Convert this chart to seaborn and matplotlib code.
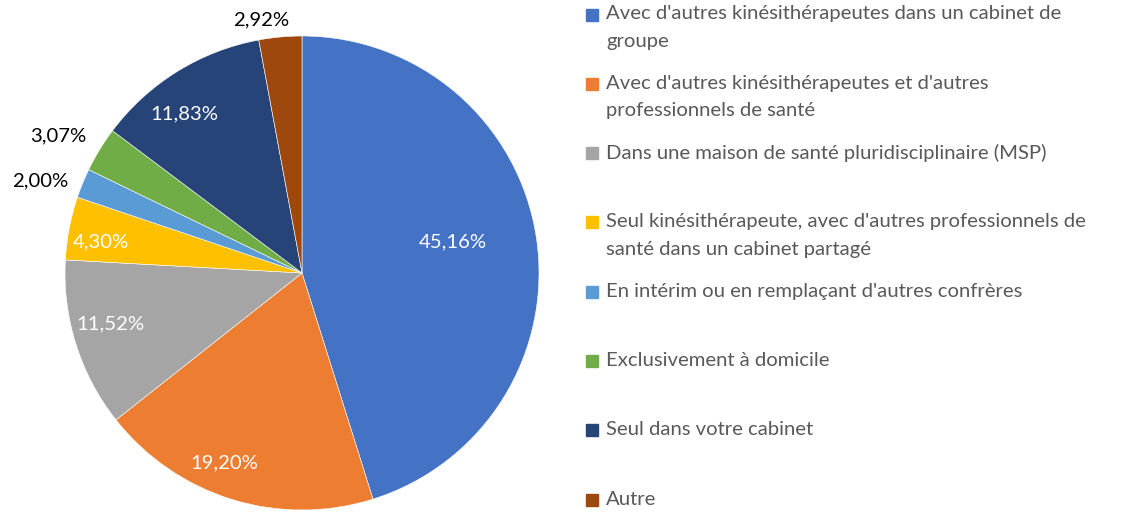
import matplotlib
matplotlib.use("Agg")
import matplotlib.pyplot as plt
from matplotlib.patches import Rectangle
import seaborn as sns
import numpy as np

# data
categories = [
    "Avec d'autres kinésithérapeutes dans un cabinet de\ngroupe",
    "Avec d'autres kinésithérapeutes et d'autres\nprofessionnels de santé",
    "Dans une maison de santé pluridisciplinaire (MSP)",
    "Seul kinésithérapeute, avec d'autres professionnels de\nsanté dans un cabinet partagé",
    "En intérim ou en remplaçant d'autres confrères",
    "Exclusivement à domicile",
    "Seul dans votre cabinet",
    "Autre",
]
shares = [45.16, 19.20, 11.52, 4.30, 2.00, 3.07, 11.83, 2.92]
colors = ["#4472C4", "#ED7D31", "#A5A5A5", "#FFC000",
          "#5B9BD5", "#70AD47", "#264478", "#9E480E"]

# label placement: fraction of radius, angle shift from slice middle, colour
label_r = [0.65, 0.865, 0.835, 0.86, 1.17, 1.18, 0.835, 1.08]
label_shift = [3, -5, -2.6, 2, 2.8, 2, 4.8, 4]
label_c = ["white", "white", "white", "white", "black", "black", "white", "black"]

sns.set_theme(style="white")
plt.rcParams["font.family"] = ["Lato", "DejaVu Sans"]

W, H = 1139, 512
fig = plt.figure(figsize=(W / 100, H / 100), dpi=100)

cx, cy, R = 302, 273, 237
ax = fig.add_axes([(cx - R) / W, (H - cy - R) / H, 2 * R / W, 2 * R / H])
palette = sns.color_palette(colors)
wedges, _ = ax.pie(shares, colors=palette, startangle=90, counterclock=False,
                   radius=1.0, wedgeprops=dict(edgecolor="white", linewidth=0.4))
ax.set_xlim(-1, 1)
ax.set_ylim(-1, 1)
ax.set_aspect("equal")
ax.axis("off")

for w, v, r, s, c in zip(wedges, shares, label_r, label_shift, label_c):
    ang = np.deg2rad((w.theta1 + w.theta2) / 2 + s)
    txt = f"{v:.2f}".replace(".", ",") + "%"
    ax.text(r * np.cos(ang), r * np.sin(ang), txt, ha="center", va="center",
            color=c, fontsize=14.6, clip_on=False)

# legend drawn as a column on the right
leg_y0, leg_step = 14.5, 69.3
for i, (lab, col) in enumerate(zip(categories, palette)):
    yc = leg_y0 + i * leg_step
    fig.patches.append(Rectangle((586 / W, (H - yc - 6) / H), 12 / W, 12 / H,
                                 transform=fig.transFigure, color=col))
    fig.text(606 / W, (H - yc + 9) / H, lab, ha="left", va="top",
             color="#595959", fontsize=14.6, linespacing=1.75)

fig.savefig("out.png", dpi=100)
